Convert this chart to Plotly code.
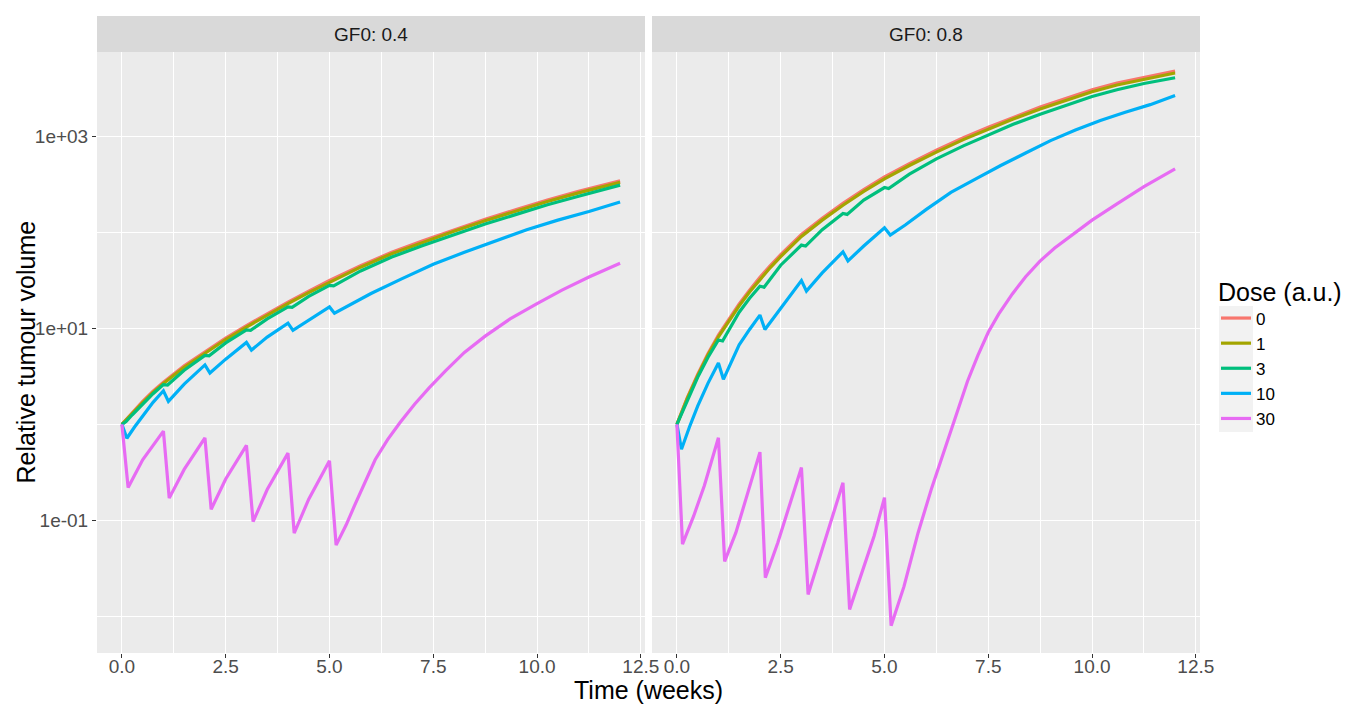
import plotly.graph_objects as go

# ---------------- data ----------------
doses = ["0", "1", "3", "10", "30"]
dose_colors = ["#F8766D", "#A3A500", "#00BF7D", "#00B0F6", "#E76BF3"]
panel_labels = ["GF0: 0.4", "GF0: 0.8"]

x_ticks = [0, 2.5, 5, 7.5, 10, 12.5]
x_tick_labels = ["0.0", "2.5", "5.0", "7.5", "10.0", "12.5"]
x_minor = [1.25, 3.75, 6.25, 8.75, 11.25]
y_ticks = [0.1, 10, 1000]
y_tick_labels = ["1e-01", "1e+01", "1e+03"]
y_minor = [0.01, 1, 100]

# ---- GF0 = 0.4 ----
t_a0 = [0, 0.25, 0.5, 0.75, 1, 1.5, 2, 2.5, 3, 3.5, 4, 4.5, 5, 5.75, 6.5, 7.25, 8, 8.75, 9.5, 10.25, 11, 12]
v_a0 = [1, 1.334, 1.738, 2.213, 2.754, 4.074, 5.754, 7.943, 10.72, 14.29, 18.84, 24.55, 31.62, 45.19,
        62.37, 82.22, 107.2, 138.0, 173.8, 218.8, 269.2, 346.7]
t_a1 = [0, 0.25, 0.5, 0.75, 1, 1.5, 2, 2.5, 3, 3.5, 4, 4.5, 5, 5.75, 6.5, 7.25, 8, 8.75, 9.5, 10.25, 11, 12]
v_a1 = [1, 1.31, 1.69, 2.15, 2.67, 3.94, 5.56, 7.67, 10.35, 13.8, 18.2, 23.7, 30.5, 43.6,
        60.2, 79.3, 103.5, 133.2, 167.8, 211.2, 259.8, 334.6]
t_a3 = [0, 0.1, 0.25, 0.5, 0.75, 1.0, 1.1, 1.5, 2.0, 2.1, 2.5, 3.0, 3.1, 3.5, 4.0, 4.1, 4.5, 5.0, 5.1,
        5.75, 6.5, 7.25, 8, 8.75, 9.5, 10.25, 11, 12]
v_a3 = [1, 1.072, 1.259, 1.641, 2.089, 2.600, 2.570, 3.673, 5.248, 5.188, 7.079, 9.661, 9.550, 12.59,
        16.79, 16.60, 21.63, 28.18, 27.86, 39.81, 55.59, 73.28, 95.50, 123.0, 154.9, 195.0, 239.9, 312.6]
t_a10 = [0, 0.12, 0.3, 0.5, 0.75, 1.0, 1.12, 1.5, 2.0, 2.12, 2.5, 3.0, 3.12, 3.5, 4.0, 4.12, 4.5, 5.0,
         5.12, 5.5, 6.0, 6.75, 7.5, 8.25, 9.0, 9.75, 10.5, 11.25, 12]
v_a10 = [1, 0.716, 0.933, 1.230, 1.698, 2.239, 1.738, 2.630, 4.169, 3.428, 4.786, 7.161, 5.957, 8.128,
         11.35, 9.550, 12.30, 16.79, 14.45, 17.78, 23.17, 33.11, 46.77, 62.37, 81.28, 107.2, 134.9, 166.0, 208.9]
t_a30 = [0, 0.15, 0.5, 1.0, 1.14, 1.5, 2.0, 2.15, 2.5, 3.0, 3.16, 3.5, 4.0, 4.15, 4.5, 5.0, 5.16,
         5.4, 5.6, 5.85, 6.1, 6.4, 6.7, 7.05, 7.4, 7.8, 8.25, 8.75, 9.35, 10, 10.6, 11.25, 12]
v_a30 = [1, 0.219, 0.427, 0.851, 0.170, 0.339, 0.724, 0.130, 0.269, 0.603, 0.0966, 0.209, 0.501, 0.0733,
         0.166, 0.417, 0.0550, 0.0891, 0.141, 0.245, 0.427, 0.692, 1.047, 1.622, 2.399, 3.631, 5.623,
         8.318, 12.59, 18.20, 25.12, 34.43, 47.86]

# ---- GF0 = 0.8 ----
t_b0 = [0, 0.25, 0.5, 0.75, 1, 1.25, 1.5, 1.75, 2, 2.25, 2.5, 3, 3.5, 4, 4.5, 5, 5.6, 6.25, 6.9, 7.5,
        8.1, 8.75, 9.4, 10, 10.6, 11.25, 12]
v_b0 = [1, 1.905, 3.311, 5.495, 8.511, 12.59, 17.99, 25.12, 34.28, 45.19, 58.88, 95.50, 141.3, 201.8,
        281.8, 380.2, 524.8, 724.4, 977.2, 1259, 1603, 2042, 2541, 3090, 3631, 4169, 4842]
t_b1 = [0, 0.25, 0.5, 0.75, 1, 1.25, 1.5, 1.75, 2, 2.25, 2.5, 3, 3.5, 4, 4.5, 5, 5.6, 6.25, 6.9, 7.5,
        8.1, 8.75, 9.4, 10, 10.6, 11.25, 12]
v_b1 = [1, 1.87, 3.22, 5.31, 8.19, 12.07, 17.2, 24.0, 32.7, 43.2, 56.2, 91.2, 135, 193,
        269, 363, 501, 692, 933, 1202, 1531, 1950, 2427, 2951, 3468, 3981, 4624]
t_b3 = [0, 0.1, 0.25, 0.5, 0.75, 1.0, 1.1, 1.5, 1.75, 2.0, 2.1, 2.5, 3.0, 3.1, 3.5, 4.0, 4.1, 4.5, 5.0, 5.1,
        5.6, 6.25, 6.9, 7.5, 8.1, 8.75, 9.4, 10, 10.6, 11.25, 12]
v_b3 = [1, 1.259, 1.778, 3.090, 5.012, 7.586, 7.413, 14.79, 20.65, 27.54, 26.92, 45.71, 74.13, 72.44,
        107.2, 158.5, 154.9, 218.8, 295.1, 288.4, 407.4, 588.8, 803.5, 1047, 1349, 1718, 2163, 2630,
        3090, 3589, 4121]
t_b10 = [0, 0.11, 0.3, 0.5, 0.75, 1.0, 1.12, 1.5, 1.75, 2.0, 2.12, 2.5, 2.75, 3.0, 3.12, 3.5, 4.0, 4.12,
         4.5, 5.0, 5.14, 5.5, 6.0, 6.6, 7.2, 7.8, 8.4, 9.0, 9.6, 10.2, 10.8, 11.4, 12]
v_b10 = [1, 0.550, 0.933, 1.549, 2.692, 4.365, 2.951, 6.761, 9.772, 13.80, 9.772, 16.22, 22.91, 31.62,
         24.55, 38.02, 63.10, 50.70, 72.44, 112.2, 94.41, 120.2, 173.8, 263.0, 363.1, 501.2, 676.1,
         912.0, 1175, 1479, 1799, 2163, 2692]
t_b30 = [0, 0.135, 0.4, 0.66, 1.0, 1.15, 1.42, 1.67, 2.0, 2.13, 2.43, 2.73, 3.0, 3.16, 3.44, 3.74, 4.0,
         4.16, 4.46, 4.75, 5.0, 5.16, 5.47, 5.81, 6.14, 6.57, 7.0, 7.25, 7.5, 7.75, 8.08, 8.4, 8.74,
         9.1, 9.5, 10.0, 10.6, 11.25, 12.0]
v_b30 = [1, 0.0562, 0.1096, 0.2291, 0.7244, 0.0372, 0.0741, 0.1660, 0.5129, 0.0251, 0.0582, 0.1514,
         0.3548, 0.0168, 0.0407, 0.1096, 0.2455, 0.01175, 0.0282, 0.0684, 0.1718, 0.00794, 0.0204,
         0.0741, 0.2188, 0.7943, 2.818, 5.248, 9.120, 14.13, 22.91, 34.67, 50.12, 69.18, 93.33, 134.9,
         199.5, 302.0, 462.4]

panel_series = [
    [(t_a0, v_a0), (t_a1, v_a1), (t_a3, v_a3), (t_a10, v_a10), (t_a30, v_a30)],
    [(t_b0, v_b0), (t_b1, v_b1), (t_b3, v_b3), (t_b10, v_b10), (t_b30, v_b30)],
]

# ---------------- figure ----------------
W, H = 1345, 705
ML, MR, MT, MB = 97, 145, 52, 52
PW = W - ML - MR   # 1103
PH = H - MT - MB   # 601
FONT = "Liberation Sans, Arial, Helvetica, sans-serif"

fig = go.Figure()
for p, series in enumerate(panel_series):
    xa = "x" if p == 0 else "x2"
    ya = "y" if p == 0 else "y2"
    for d, (t, v) in enumerate(series):
        fig.add_trace(go.Scatter(
            x=t, y=v, mode="lines", name=doses[d], legendgroup=doses[d],
            showlegend=(p == 0), line=dict(color=dose_colors[d], width=3.2),
            xaxis=xa, yaxis=ya, hoverinfo="skip"))

common_x = dict(range=[-0.6, 12.6], tickmode="array", tickvals=x_ticks, ticktext=x_tick_labels,
                ticks="outside", ticklen=4, tickwidth=1, tickcolor="#333333", ticklabelstandoff=-8,
                showgrid=True, gridcolor="white", gridwidth=1.3, zeroline=False, showline=False,
                tickfont=dict(size=19, color="#4D4D4D"),
                minor=dict(tickmode="array", tickvals=x_minor, showgrid=True,
                           gridcolor="white", gridwidth=0.65, ticks=""))
common_y = dict(type="log", range=[-2.385, 3.884], tickmode="array", tickvals=y_ticks,
                ticktext=y_tick_labels, tickwidth=1, tickcolor="#333333",
                showgrid=True, gridcolor="white", gridwidth=1.3, zeroline=False, showline=False,
                tickfont=dict(size=19, color="#4D4D4D"),
                minor=dict(tickmode="array", tickvals=y_minor, showgrid=True,
                           gridcolor="white", gridwidth=0.65, ticks=""))

gap = 7 / PW
fig.update_layout(
    width=W, height=H,
    margin=dict(l=ML, r=MR, t=MT, b=MB, pad=0, autoexpand=False),
    paper_bgcolor="white", plot_bgcolor="#EBEBEB",
    font=dict(family=FONT, color="black"),
    xaxis=dict(domain=[0, 0.5 - gap / 2], anchor="y", **common_x),
    xaxis2=dict(domain=[0.5 + gap / 2, 1], anchor="y2", **common_x),
    yaxis=dict(domain=[0, 1], anchor="x", ticks="outside", ticklen=4, **common_y),
    yaxis2=dict(domain=[0, 1], anchor="x2", matches="y", showticklabels=False, ticks="", **common_y),
    legend=dict(title=dict(text="Dose (a.u.)", font=dict(size=25, color="black")),
                font=dict(size=17, color="black"),
                xref="container", yref="container",
                x=1216 / W, y=1 - 268 / H, xanchor="left", yanchor="top",
                bgcolor="rgba(0,0,0,0)", traceorder="normal", tracegroupgap=0),
    showlegend=True,
)

strip_h = 36 / PH
shapes = []
annotations = []
for p, lab in enumerate(panel_labels):
    xr = "x domain" if p == 0 else "x2 domain"
    shapes.append(dict(type="rect", xref=xr, yref="paper", x0=0, x1=1, y0=1, y1=1 + strip_h,
                       fillcolor="#D9D9D9", line=dict(width=0), layer="below"))
    annotations.append(dict(text=lab, xref=xr, yref="paper", x=0.5, y=1 + strip_h / 2,
                            xanchor="center", yanchor="middle", showarrow=False,
                            font=dict(size=19, color="#1A1A1A")))

# light grey background behind the legend keys (ggplot legend.key)
shapes.append(dict(type="rect", xref="paper", yref="paper",
                   x0=(1219 - ML) / PW, x1=(1253 - ML) / PW,
                   y0=(H - MB - 432) / PH, y1=(H - MB - 306) / PH,
                   fillcolor="#F2F2F2", line=dict(width=0), layer="below"))

annotations.append(dict(text="Time (weeks)", xref="paper", yref="paper", x=0.5, y=-(690 - 653) / PH,
                        xanchor="center", yanchor="middle", showarrow=False,
                        font=dict(size=25, color="black")))
annotations.append(dict(text="Relative tumour volume", xref="paper", yref="paper",
                        x=(25 - ML) / PW, y=0.5, xanchor="center", yanchor="middle",
                        textangle=-90, showarrow=False, font=dict(size=25, color="black")))
fig.update_layout(shapes=shapes, annotations=annotations)

fig.write_html("out.html")
